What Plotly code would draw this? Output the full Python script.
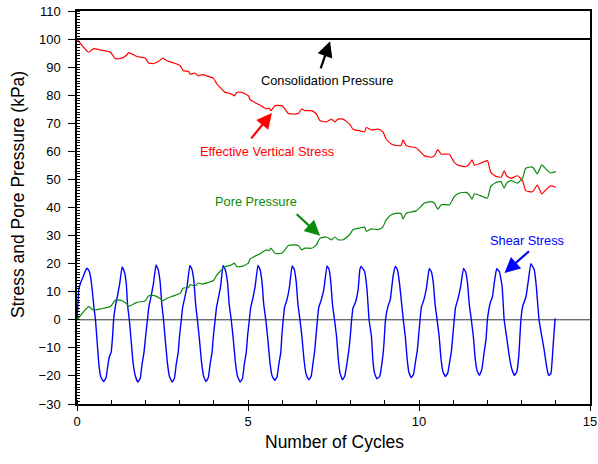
import plotly.graph_objects as go

# ---- data -----------------------------------------------------------------
consolidation_pressure = 100.0

pore_x = [0.00, 0.10, 0.20, 0.34, 0.49, 0.69, 0.98, 1.12, 1.32, 1.46, 1.51,
          1.75, 2.00, 2.09, 2.24, 2.39, 2.51, 2.63, 2.82, 3.02, 3.11, 3.26,
          3.31, 3.45, 3.55, 3.65, 3.99, 4.09, 4.18, 4.33, 4.43, 4.52, 4.60,
          4.67, 4.82, 5.01, 5.06, 5.20, 5.35, 5.45, 5.54, 5.62, 5.67, 5.79,
          5.98, 6.08, 6.17, 6.32, 6.47, 6.57, 6.66, 6.86, 7.00, 7.10, 7.29,
          7.44, 7.54, 7.63, 7.78, 7.97, 8.07, 8.27, 8.41, 8.46, 8.61, 8.80,
          8.94, 9.04, 9.19, 9.38, 9.48, 9.53, 9.63, 9.92, 10.06, 10.16, 10.36,
          10.45, 10.55, 10.65, 10.89, 11.03, 11.18, 11.38, 11.47, 11.55, 11.62,
          11.86, 12.00, 12.10, 12.25, 12.40, 12.49, 12.56, 12.69, 12.88, 13.03,
          13.12, 13.32, 13.46, 13.59, 13.71, 13.85, 14.00]

pore_pressure = [0.0, 1.5, 3.0, 4.7, 3.4, 3.9, 4.7, 7.0, 6.8, 5.6, 4.8,
                 6.2, 6.8, 8.5, 8.7, 7.9, 6.8, 7.7, 8.5, 9.5, 11.3, 11.5,
                 12.5, 12.1, 13.1, 12.7, 14.0, 16.0, 17.2, 19.0, 19.2, 19.6, 20.2,
                 19.0, 19.0, 20.2, 21.6, 22.6, 23.5, 24.3, 24.9, 24.6, 25.5, 23.7,
                 23.7, 24.9, 26.4, 26.7, 26.5, 24.9, 25.5, 25.5, 26.7, 29.0, 29.5,
                 28.5, 29.5, 28.5, 28.5, 30.3, 32.1, 32.7, 33.0, 31.5, 32.4, 32.1,
                 33.0, 35.6, 37.4, 38.0, 37.8, 35.9, 38.0, 38.8, 40.4, 41.6, 42.1,
                 41.6, 39.4, 41.0, 41.0, 43.9, 45.1, 45.4, 44.5, 43.0, 44.9,
                 43.9, 43.3, 47.5, 48.9, 49.2, 46.9, 48.7, 49.6, 48.7, 50.5,
                 54.0, 54.4, 52.0, 55.2, 53.7, 52.3, 52.8]

effective_vertical_stress = [100.0, 98.5, 97.0, 95.3, 96.6, 96.1, 95.3, 93.0, 93.2, 94.4, 95.2,
                             93.8, 93.2, 91.5, 91.3, 92.1, 93.2, 92.3, 91.5, 90.5, 88.7, 88.5,
                             87.5, 87.9, 86.9, 87.3, 86.0, 84.0, 82.8, 81.0, 80.8, 80.4, 79.8,
                             81.0, 81.0, 79.8, 78.4, 77.4, 76.5, 75.7, 75.1, 75.4, 74.5, 76.3,
                             76.3, 75.1, 73.6, 73.3, 73.5, 75.1, 74.5, 74.5, 73.3, 71.0, 70.5,
                             71.5, 70.5, 71.5, 71.5, 69.7, 67.9, 67.3, 67.0, 68.5, 67.6, 67.9,
                             67.0, 64.4, 62.6, 62.0, 62.2, 64.1, 62.0, 61.2, 59.6, 58.4, 57.9,
                             58.4, 60.6, 59.0, 59.0, 56.1, 54.9, 54.6, 55.5, 57.0, 55.1,
                             56.1, 56.7, 52.5, 51.1, 50.8, 53.1, 51.3, 50.4, 51.3, 49.5,
                             46.0, 45.6, 48.0, 44.8, 46.3, 47.7, 47.2]

shear_x = [
    0.00, 0.02, 0.05, 0.10, 0.17, 0.23, 0.29, 0.35, 0.40, 0.45, 0.50, 0.54, 0.59, 0.64, 0.70, 0.78, 0.85, 0.90, 0.95, 1.00, 1.04,
    1.07, 1.12, 1.18, 1.25, 1.32, 1.38, 1.44, 1.48, 1.53, 1.58, 1.64, 1.71, 1.78, 1.85, 1.90, 1.96, 2.01,
    2.06, 2.10, 2.16, 2.23, 2.31, 2.37, 2.43, 2.48, 2.53, 2.58, 2.64, 2.70, 2.78, 2.85, 2.90, 2.96, 3.00,
    3.05, 3.09, 3.15, 3.22, 3.30, 3.36, 3.42, 3.47, 3.52, 3.58, 3.64, 3.70, 3.77, 3.84, 3.89, 3.95, 3.99,
    4.04, 4.08, 4.13, 4.20, 4.27, 4.33, 4.40, 4.45, 4.51, 4.57, 4.63, 4.69, 4.77, 4.84, 4.89, 4.95, 4.99,
    5.04, 5.08, 5.14, 5.21, 5.29, 5.35, 5.41, 5.46, 5.52, 5.58, 5.64, 5.70, 5.78, 5.85, 5.90, 5.96, 5.99,
    6.03, 6.07, 6.14, 6.21, 6.29, 6.35, 6.41, 6.46, 6.52, 6.58, 6.64, 6.70, 6.78, 6.85, 6.90, 6.95, 6.99,
    7.03, 7.07, 7.14, 7.22, 7.31, 7.37, 7.42, 7.47, 7.53, 7.59, 7.64, 7.69, 7.76, 7.83, 7.88, 7.95, 7.99,
    8.03, 8.07, 8.15, 8.22, 8.27, 8.31, 8.41, 8.48, 8.54, 8.61, 8.65, 8.70, 8.77, 8.85, 8.93, 8.97,
    9.02, 9.09, 9.16, 9.24, 9.31, 9.37, 9.43, 9.49, 9.54, 9.60, 9.65, 9.70, 9.77, 9.84, 9.89, 9.95, 9.99,
    10.03, 10.07, 10.14, 10.22, 10.30, 10.36, 10.42, 10.47, 10.53, 10.59, 10.64, 10.70, 10.77, 10.84, 10.89, 10.95, 10.99,
    11.03, 11.07, 11.14, 11.22, 11.30, 11.36, 11.42, 11.47, 11.53, 11.59, 11.64, 11.70, 11.77, 11.84, 11.90, 11.96,
    12.00, 12.08, 12.15, 12.20, 12.27, 12.35, 12.43, 12.49, 12.56, 12.64, 12.72, 12.79, 12.86, 12.92, 12.95,
    12.98, 13.03, 13.13, 13.20, 13.27, 13.37, 13.43, 13.51, 13.59, 13.66, 13.73, 13.79, 13.86, 13.92, 13.98,
]

shear_stress = [
    0.0, 4.0, 10.5, 13.0, 15.0, 17.0, 18.4, 17.5, 15.0, 10.0, 4.0, 0.0, -8.0, -16.0, -20.5, -22.0, -20.6, -16.5, -13.0, -11.5, -6.0,
    0.0, 4.7, 8.3, 13.0, 18.8, 17.3, 13.0, 5.0, 0.0, -7.0, -15.4, -20.2, -22.2, -20.8, -16.0, -11.5, -5.5,
    0.0, 4.5, 8.0, 12.5, 19.5, 18.0, 13.5, 5.5, 0.0, -7.0, -15.0, -20.0, -22.2, -20.8, -16.0, -11.5, -5.5,
    0.0, 4.5, 7.8, 12.0, 19.4, 18.0, 13.5, 5.5, 0.0, -7.0, -15.0, -20.0, -22.0, -20.6, -16.0, -11.5, -5.5,
    0.0, 4.5, 7.5, 12.0, 19.4, 18.0, 13.5, 5.5, 0.0, -7.0, -15.0, -20.0, -22.2, -20.8, -16.0, -11.5, -5.5,
    0.0, 4.5, 7.5, 12.0, 19.4, 18.0, 13.5, 5.5, 0.0, -7.0, -15.0, -19.8, -21.6, -20.3, -16.0, -11.5, -5.5,
    0.0, 4.5, 7.2, 11.5, 19.2, 18.0, 13.5, 5.5, 0.0, -6.5, -14.5, -19.5, -21.4, -20.0, -15.5, -11.0, -5.5,
    0.0, 4.5, 7.0, 11.0, 19.2, 18.0, 13.5, 5.5, 0.0, -6.0, -14.0, -19.0, -21.4, -20.0, -16.6, -10.7, -5.9,
    0.0, 4.2, 6.5, 10.7, 17.8, 19.0, 17.2, 10.7, 0.0, -5.9, -14.2, -19.0, -21.0, -20.2, -14.2, -9.5,
    0.0, 4.7, 7.1, 15.4, 19.0, 17.8, 13.0, 6.0, 0.0, -6.0, -13.5, -18.5, -20.6, -19.5, -15.5, -11.0, -5.5,
    0.0, 4.5, 7.0, 11.5, 18.3, 17.2, 13.0, 5.5, 0.0, -6.0, -13.5, -18.5, -20.2, -19.0, -15.5, -11.0, -5.5,
    0.0, 4.5, 7.5, 12.0, 18.3, 17.2, 13.0, 5.5, 0.0, -6.0, -13.5, -18.2, -19.8, -17.5, -12.0, -7.0,
    0.0, 5.9, 8.3, 13.0, 18.2, 17.2, 11.9, 0.0, -5.9, -13.0, -17.8, -19.8, -18.5, -12.5, -6.0,
    0.0, 4.7, 8.3, 14.2, 20.0, 17.8, 11.9, 0.0, -5.9, -10.7, -16.6, -19.9, -19.0, -9.5, 0.5,
]

x_range = [0, 15]
y_range = [-30, 110]

FONT = "Arial, 'Liberation Sans', sans-serif"
RED = "#ff0000"
GREEN = "#0a8a0a"
BLUE = "#0000ff"

fig = go.Figure()

fig.add_trace(go.Scatter(x=shear_x, y=shear_stress, mode="lines",
                         line=dict(color=BLUE, width=1.4, shape="spline", smoothing=0.3),
                         name="Shear Stress"))
fig.add_trace(go.Scatter(x=pore_x, y=pore_pressure, mode="lines",
                         line=dict(color=GREEN, width=1.2, shape="spline", smoothing=0.5),
                         name="Pore Pressure"))
fig.add_trace(go.Scatter(x=pore_x, y=effective_vertical_stress, mode="lines",
                         line=dict(color=RED, width=1.2, shape="spline", smoothing=0.5),
                         name="Effective Vertical Stress"))

# reference lines: consolidation pressure and zero stress
fig.add_shape(type="line", xref="paper", x0=0, x1=1, yref="y",
              y0=consolidation_pressure, y1=consolidation_pressure,
              line=dict(color="black", width=2), layer="above")
fig.add_shape(type="line", xref="paper", x0=0, x1=1, yref="y", y0=0, y1=0,
              line=dict(color="#333333", width=1), layer="below")


def label(text, color, tx, ty, ax, ay, hx, hy):
    fig.add_annotation(x=tx, y=ty, text=text, showarrow=False,
                       font=dict(family=FONT, size=12.8, color=color))
    fig.add_annotation(x=hx, y=hy, ax=ax, ay=ay, xref="x", yref="y",
                       axref="x", ayref="y", text="", showarrow=True,
                       arrowhead=2, arrowsize=1.4, arrowwidth=2.2,
                       arrowcolor=color)


label("Consolidation Pressure", "black", 7.31, 85.4, 7.11, 89.0, 7.40, 99.2)
label("Effective Vertical Stress", RED, 5.57, 59.8, 5.06, 64.1, 5.70, 73.7)
label("Pore Pressure", GREEN, 5.24, 42.0, 6.38, 38.1, 7.11, 29.9)
label("Shear Stress", BLUE, 13.17, 28.4, 13.26, 24.9, 12.50, 16.7)

# axis titles
fig.add_annotation(text="Number of Cycles", xref="paper", yref="paper",
                   x=0.502, y=0, yshift=-38, xanchor="center", yanchor="middle",
                   showarrow=False,
                   font=dict(family=FONT, size=17.5, color="black"))
fig.add_annotation(text="Stress and Pore Pressure (kPa)", xref="paper", yref="paper",
                   x=0, xshift=-59, y=0.532, xanchor="center", yanchor="middle",
                   textangle=-90, showarrow=False,
                   font=dict(family=FONT, size=17.5, color="black"))

fig.update_layout(
    width=598, height=464,
    margin=dict(l=76.5, r=7.5, t=11, b=60, autoexpand=False),
    paper_bgcolor="white", plot_bgcolor="white",
    showlegend=False,
    font=dict(family=FONT, color="black"),
)

fig.update_xaxes(
    range=x_range, dtick=5, tick0=0, automargin=False,
    showline=True, linecolor="black", linewidth=1.5, mirror=True,
    ticks="outside", ticklen=5, tickwidth=1, tickcolor="black",
    minor=dict(dtick=1, ticks="inside", ticklen=4, tickcolor="black", showgrid=False),
    showgrid=False, zeroline=False,
    tickfont=dict(family=FONT, size=13, color="black"),
)
fig.update_yaxes(
    range=y_range, dtick=10, tick0=0, automargin=False,
    showline=True, linecolor="black", linewidth=1.5, mirror=True,
    ticks="outside", ticklen=7, tickwidth=1, tickcolor="black",
    ticklabelstandoff=5,
    minor=dict(dtick=1, ticks="inside", ticklen=3, tickcolor="black", showgrid=False),
    showgrid=False, zeroline=False,
    tickfont=dict(family=FONT, size=13, color="black"),
)

fig.write_html("out.html")
